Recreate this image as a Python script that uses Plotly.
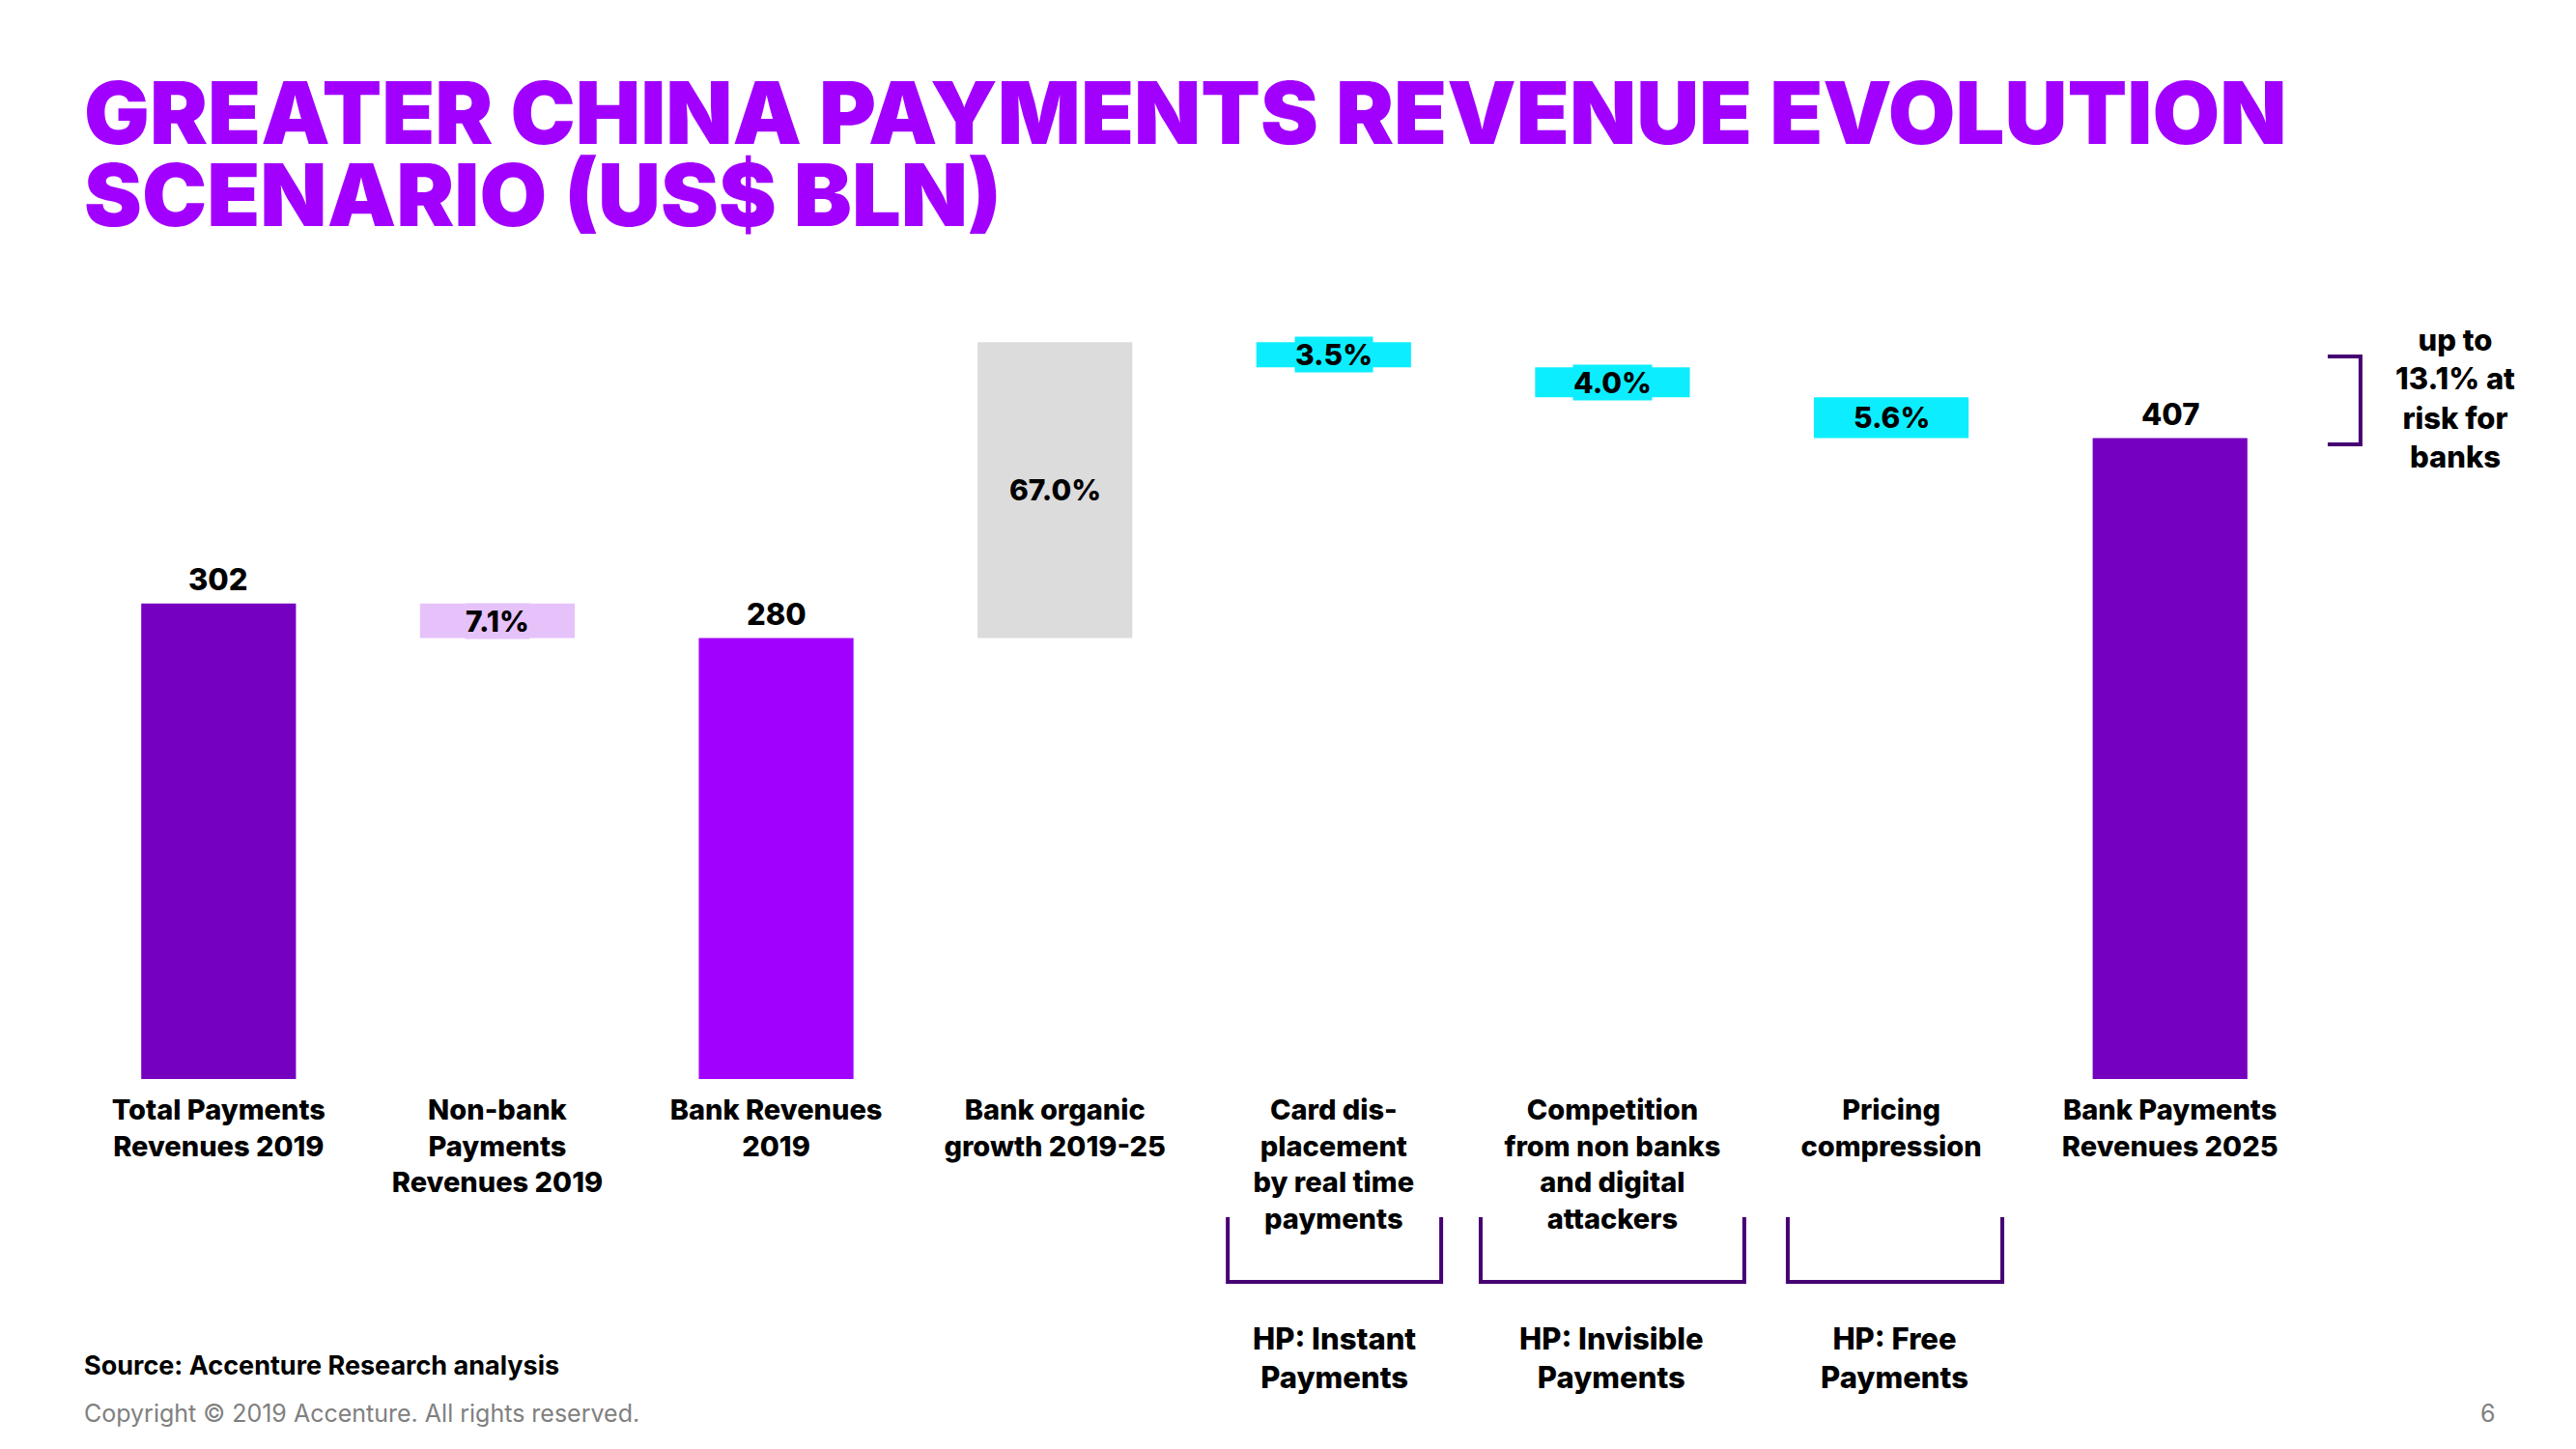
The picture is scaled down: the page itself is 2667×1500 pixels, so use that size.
import plotly.graph_objects as go

# ---- data ----
categories = [
    "Total Payments<br>Revenues 2019",
    "Non-bank<br>Payments<br>Revenues 2019",
    "Bank Revenues<br>2019",
    "Bank organic<br>growth 2019-25",
    "Card dis-<br>placement<br>by real time<br>payments",
    "Competition<br>from non banks<br>and digital<br>attackers",
    "Pricing<br>compression",
    "Bank Payments<br>Revenues 2025",
]
# "total" bars give the level, "delta" bars give the change (US$ bln)
kinds = ["total", "delta", "total", "delta", "delta", "delta", "delta", "total"]
values = [302, -22, 280, 188, -16, -19, -26, 407]
pct_labels = ["302", "7.1%", "280", "67.0%", "3.5%", "4.0%", "5.6%", "407"]
bar_colors = ["#7500C0", "#E6C2FA", "#A100FF", "#DCDCDC",
              "#0CEEFF", "#0CEEFF", "#0CEEFF", "#7500C0"]
hp_labels = ["HP: Instant<br>Payments", "HP: Invisible<br>Payments", "HP: Free<br>Payments"]
risk_label = "up to<br>13.1% at<br>risk for<br>banks"

# ---- derive bar bases/heights ----
bases, heights = [], []
level = 0
for k, v in zip(kinds, values):
    if k == "total":
        bases.append(0)
        heights.append(v)
        level = v
    else:
        if v >= 0:
            bases.append(level)
            heights.append(v)
        else:
            bases.append(level + v)
            heights.append(-v)
        level = level + v

FONT = "Inter"
fig = go.Figure()
fig.add_trace(go.Bar(
    x=list(range(len(categories))), y=heights, base=bases,
    marker=dict(color=bar_colors, line=dict(width=0)),
    width=0.555, hoverinfo="skip", showlegend=False,
))

annotations = []
for i, (k, b, h, lab, c) in enumerate(zip(kinds, bases, heights, pct_labels, bar_colors)):
    if k == "total":
        annotations.append(dict(x=i, y=b + h, xref="x", yref="y", text=lab,
                                showarrow=False, yanchor="bottom", yshift=5,
                                font=dict(family=FONT, size=31, color="black", weight=800)))
    else:
        annotations.append(dict(x=i, y=b + h / 2, xref="x", yref="y", text=lab,
                                showarrow=False, bgcolor=c, borderpad=0,
                                font=dict(family=FONT, size=30, color="black", weight=800)))

# HP labels under brackets
hp_x = [0.5626, 0.6873, 0.8138]
for x, t in zip(hp_x, hp_labels):
    annotations.append(dict(x=x, y=-0.3534, xref="paper", yref="paper", text=t,
                            xanchor="center", yanchor="middle", showarrow=False,
                            font=dict(family=FONT, size=31, color="black", weight=800)))
annotations.append(dict(x=1.0654, y=0.8656, xref="paper", yref="paper", text=risk_label,
                        xanchor="center", yanchor="middle", showarrow=False,
                        font=dict(family=FONT, size=31, color="black", weight=800)))

# Title
annotations.append(dict(x=0.0013, y=1.228, xref="paper", yref="paper", xanchor="left",
                        yanchor="middle",
                        text="GREATER CHINA PAYMENTS REVENUE EVOLUTION", showarrow=False,
                        font=dict(family=FONT, size=90, color="#A100FF", weight=900)))
annotations.append(dict(x=0.0013, y=1.123, xref="paper", yref="paper", xanchor="left",
                        yanchor="middle",
                        text="SCENARIO (US$ BLN)", showarrow=False,
                        font=dict(family=FONT, size=90, color="#A100FF", weight=900)))
# Footer
annotations.append(dict(x=0.0013, y=-0.3632, xref="paper", yref="paper", xanchor="left",
                        yanchor="middle",
                        text="Source: Accenture Research analysis", showarrow=False,
                        font=dict(family=FONT, size=27, color="black", weight=700)))
annotations.append(dict(x=0.0013, y=-0.4245, xref="paper", yref="paper", xanchor="left",
                        yanchor="middle",
                        text="Copyright © 2019 Accenture. All rights reserved.", showarrow=False,
                        font=dict(family=FONT, size=25, color="#808080")))
annotations.append(dict(x=1.0801, y=-0.4245, xref="paper", yref="paper", xanchor="center",
                        yanchor="middle",
                        text="6", showarrow=False,
                        font=dict(family=FONT, size=25, color="#808080")))

# Brackets
BR = "#460073"
shapes = []
for x0, x1 in [(0.515, 0.6107), (0.6284, 0.7466), (0.7661, 0.8623)]:
    shapes.append(dict(type="path", xref="paper", yref="paper",
                       path=f"M {x0},-0.1755 L {x0},-0.2577 L {x1},-0.2577 L {x1},-0.1755",
                       line=dict(color=BR, width=4)))
shapes.append(dict(type="path", xref="paper", yref="paper",
                   path="M 1.0082,0.9178 L 1.0229,0.9178 L 1.0229,0.806 L 1.0082,0.806",
                   line=dict(color=BR, width=4)))

fig.update_layout(
    width=2659, height=1492,
    margin=dict(l=74, r=276, t=294, b=383),
    paper_bgcolor="white", plot_bgcolor="white",
    bargap=0.445,
    annotations=annotations, shapes=shapes,
    xaxis=dict(tickmode="array", tickvals=list(range(len(categories))), ticktext=categories,
               range=[-0.5, 7.5], showgrid=False, zeroline=False, showline=False,
               ticks="", ticklabelstandoff=12,
               tickfont=dict(family=FONT, size=29, color="black", weight=800)),
    yaxis=dict(range=[0, 500], visible=False, showgrid=False, zeroline=False),
)

fig.write_html("out.html")
